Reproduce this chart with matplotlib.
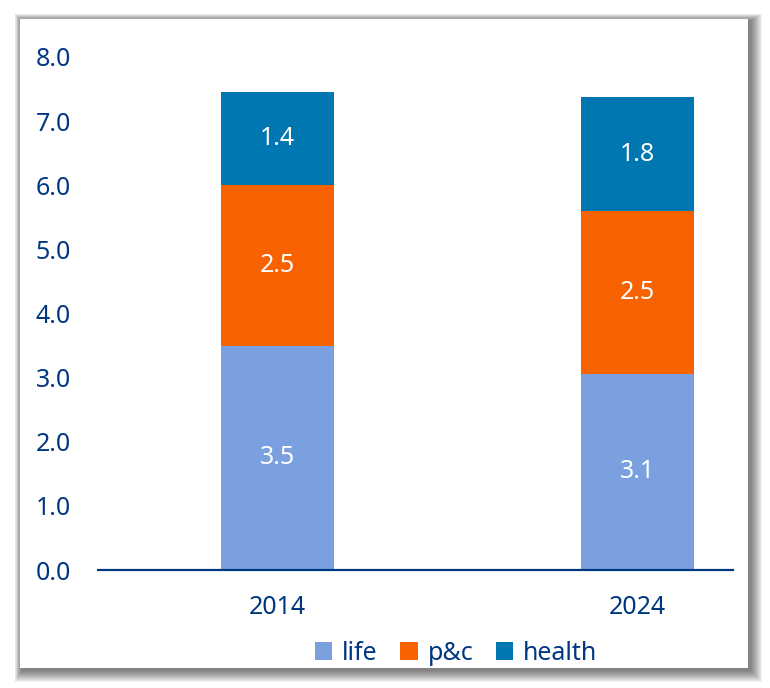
import matplotlib
matplotlib.use("Agg")
import matplotlib.pyplot as plt
from matplotlib.patches import Rectangle
import numpy as np

categories = ["2014", "2024"]
series_names = ["life", "p&c", "health"]
life = [3.50, 3.06]
pc = [2.51, 2.54]
health = [1.44, 1.77]
yticks = [0.0, 1.0, 2.0, 3.0, 4.0, 5.0, 6.0, 7.0, 8.0]

colors = ["#7BA0E0", "#F86200", "#0077B0"]
navy = "#003781"
plt.rcParams['font.family'] = ['Noto Sans', 'DejaVu Sans']
FS = 18

W, H = 770, 688
fig = plt.figure(figsize=(W/100, H/100), dpi=100)
fig.patch.set_facecolor("white")

# shadow + panel
px0, py0, px1, py1 = 20, 19, 748, 668
def fr(x0, y0, x1, y1):
    return (x0/W, 1 - y1/H), (x1-x0)/W, (y1-y0)/H
for i in range(12, 0, -1):
    (x, y), w, h = fr(px0 - i*0.6 + 2, py0 - i*0.6 + 2, px1 + i + 2, py1 + i + 2)
    fig.patches.append(Rectangle((x, y), w, h, transform=fig.transFigure,
                                 facecolor="black", edgecolor="none", alpha=0.05, zorder=0))
(x, y), w, h = fr(px0, py0, px1, py1)
fig.patches.append(Rectangle((x, y), w, h, transform=fig.transFigure,
                             facecolor="white", edgecolor="none", zorder=1))

# axes: y=0 at 570px, y=8 at 57px; x from 98 to 733
ax_left, ax_right = 98, 733
y0px, y8px = 570, 57
ax = fig.add_axes([ax_left/W, 1 - y0px/H, (ax_right-ax_left)/W, (y0px-y8px)/H])
ax.set_facecolor("none")
ax.set_zorder(2)

x = np.arange(len(categories))
width = 0.314
bottom = np.zeros(len(categories))
for vals, name, c in zip([life, pc, health], series_names, colors):
    ax.bar(x, vals, width, bottom=bottom, color=c, label=name, zorder=2)
    for xi, v, b in zip(x, vals, bottom):
        ax.text(xi, b + v/2, f"{v:.1f}", ha="center", va="center",
                color="white", fontsize=FS)
    bottom = bottom + np.array(vals)

ax.set_ylim(0, 8)
ax.set_xlim(-179.5/360, 1 + 95.5/360)
ax.set_yticks(yticks)
ax.set_yticklabels([f"{t:.1f}" for t in yticks], color=navy, fontsize=FS)
ax.set_xticks(x)
ax.set_xticklabels(categories, color=navy, fontsize=FS)
ax.tick_params(axis="y", length=0, pad=19.5)
ax.tick_params(axis="x", length=0, pad=18)
for s in ["top", "right", "left"]:
    ax.spines[s].set_visible(False)
ax.spines["bottom"].set_color(navy)
ax.spines["bottom"].set_linewidth(1.6)
ax.spines["bottom"].set_zorder(3)

leg = fig.legend(loc="center", bbox_to_anchor=(456/W, 1 - 653/H), ncol=3, frameon=False,
                 fontsize=FS, handlelength=0.7, handleheight=0.7, handletextpad=0.4,
                 columnspacing=0.9)
for t in leg.get_texts():
    t.set_color(navy)

fig.savefig("out.png", dpi=100)
